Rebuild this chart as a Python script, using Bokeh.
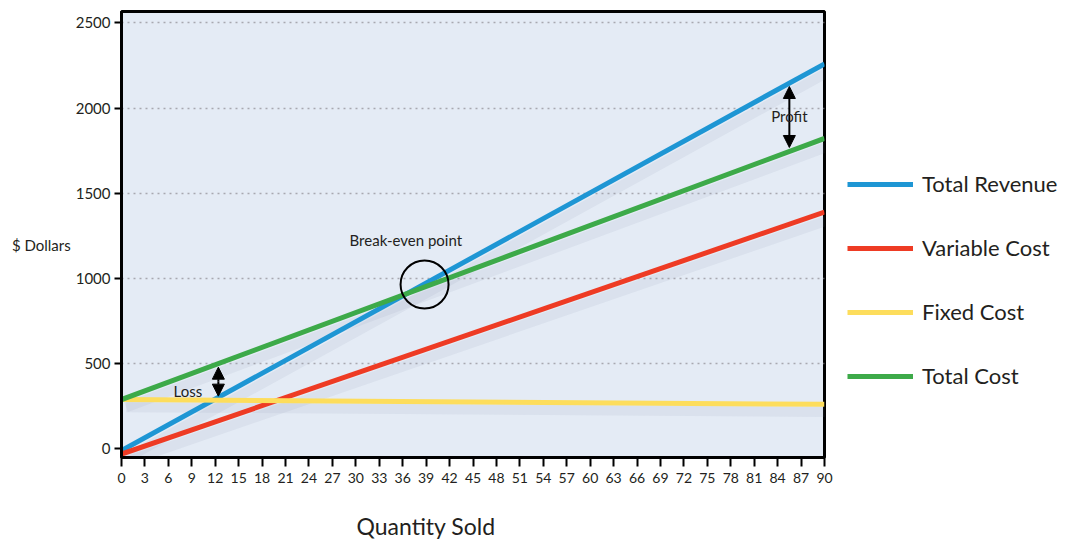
from bokeh.plotting import figure
from bokeh.models import Range1d, Legend, LegendItem, Label, Arrow, NormalHead, FixedTicker, Title
from bokeh.embed import file_html
from bokeh.resources import INLINE

# ---- data ----
quantity = [0, 90]
total_revenue = [-10, 2260]
variable_cost = [-30, 1390]
fixed_cost = [290, 262]
total_cost = [290, 1822]
x_ticks = list(range(0, 91, 3))
y_ticks = [0, 500, 1000, 1500, 2000, 2500]
series_names = ["Total Revenue", "Variable Cost", "Fixed Cost", "Total Cost"]
series_colors = ["#1E96D4", "#EE3B24", "#FDDD5C", "#3DAA49"]
break_even = (38.8, 965)
loss_arrow = (12.4, 310, 480)
profit_arrow = (85.5, 1769, 2127)

FONT = "Lato"
TXT = "#231F20"

p = figure(frame_width=703, frame_height=446, output_backend="svg", toolbar_location=None,
           x_range=Range1d(0, 90), y_range=Range1d(-50, 2567),
           min_border_left=121, min_border_right=10, min_border_top=11, min_border_bottom=86)
p.background_fill_color = "#E4EBF5"
p.border_fill_color = "white"
p.outline_line_color = "black"
p.outline_line_width = 3

p.xgrid.visible = False
p.ygrid.ticker = FixedTicker(ticks=[500, 1000, 1500, 2000, 2500])
p.ygrid.grid_line_color = "#A8A8B0"
p.ygrid.grid_line_dash = "2 4"
p.ygrid.grid_line_width = 1.5

for ax in (p.xaxis[0], p.yaxis[0]):
    ax.axis_line_color = "black"
    ax.axis_line_width = 3
    ax.major_tick_line_color = "black"
    ax.major_tick_line_width = 2
    ax.minor_tick_line_color = None
    ax.major_label_text_font = FONT
    ax.major_label_text_color = TXT
    ax.major_label_text_font_size = "14px"
p.xaxis.ticker = FixedTicker(ticks=x_ticks)
p.yaxis.ticker = FixedTicker(ticks=y_ticks)
p.xaxis.major_tick_in = 0
p.xaxis.major_tick_out = 9
p.yaxis.major_tick_in = 0
p.yaxis.major_tick_out = 7
p.xaxis.major_label_standoff = 6
p.yaxis.major_label_standoff = 4
p.yaxis.major_label_text_font_size = "15px"

p.yaxis.axis_label = "\n$ Dollars"
p.yaxis.axis_label_orientation = "horizontal"
p.yaxis.axis_label_standoff = 2
p.yaxis.axis_label_text_font = FONT
p.yaxis.axis_label_text_font_style = "normal"
p.yaxis.axis_label_text_font_size = "15px"
p.yaxis.axis_label_text_color = TXT

xt = Title(text="Quantity Sold", align="left", offset=235, standoff=48,
           text_font=FONT, text_font_size="23px", text_font_style="normal", text_color=TXT)
p.add_layout(xt, "below")

series = [total_revenue, variable_cost, fixed_cost, total_cost]
# soft shadows
for vals in series:
    p.line([q + 0.6 for q in quantity], [v - 45 for v in vals], line_color="#8C96AA",
           line_alpha=0.11, line_width=10)
renderers = []
for name, vals, col in zip(series_names, series, series_colors):
    r = p.line(quantity, vals, line_color=col, line_width=5)
    renderers.append(r)

legend = Legend(items=[LegendItem(label=n, renderers=[r]) for n, r in zip(series_names, renderers)],
                location=(23, 68), orientation="vertical")
legend.glyph_width = 66
legend.glyph_height = 24
legend.label_height = 24
legend.spacing = 37
legend.padding = 0
legend.margin = 0
legend.label_standoff = 9
legend.label_text_font = FONT
legend.label_text_font_size = "22px"
legend.label_text_color = TXT
legend.border_line_color = None
legend.background_fill_alpha = 0
p.add_layout(legend, "right")

# break-even
p.scatter([break_even[0]], [break_even[1]], size=48, fill_alpha=0, line_color="black", line_width=2)
p.add_layout(Label(x=36.4, y=1224, text="Break-even point", text_align="center", text_baseline="middle",
                   text_font=FONT, text_font_size="15px", text_color=TXT))

# loss / profit arrows
for (xq, y0, y1) in (loss_arrow, profit_arrow):
    for ye in (y0, y1):
        p.add_layout(Arrow(x_start=xq, y_start=(y0 + y1) / 2, x_end=xq, y_end=ye, line_width=2,
                           line_color="black",
                           end=NormalHead(size=12, fill_color="black", line_color="black")))
p.add_layout(Label(x=6.66, y=343, text="Loss", text_align="left", text_baseline="middle",
                   text_font=FONT, text_font_size="15px", text_color=TXT))
p.add_layout(Label(x=85.5, y=1951, text="Profit", text_align="center", text_baseline="middle",
                   text_font=FONT, text_font_size="15px", text_color=TXT))

open("out.html", "w").write(file_html(p, INLINE))
